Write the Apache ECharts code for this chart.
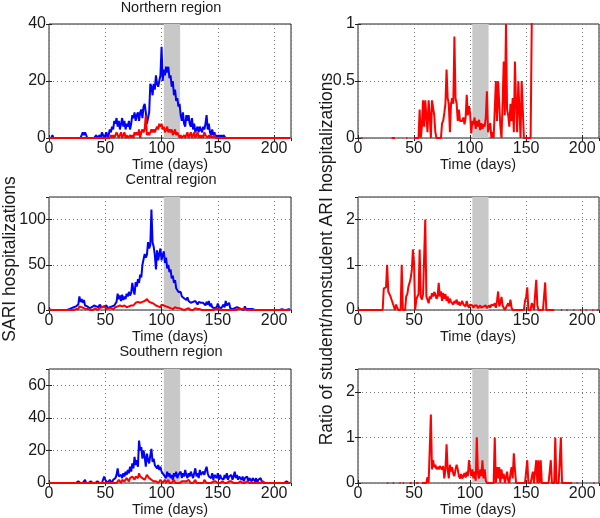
<!DOCTYPE html>
<html><head><meta charset="utf-8">
<script src="https://cdn.jsdelivr.net/npm/echarts@6/dist/echarts.min.js"></script>
<style>html,body{margin:0;padding:0;background:#fff}#c{width:600px;height:518px}</style>
</head><body><div id="c"></div>
<script>
// ---- DATA (day index 0..214) ----
const panelTitles = ["Northern region", "Central region", "Southern region"];
const xLabel = "Time (days)";
const yLabelLeft = "SARI hospitalizations";
const yLabelRight = "Ratio of student/nonstudent ARI hospitalizations";
const xTicks = [0, 50, 100, 150, 200];
const bandStart = 102, bandEnd = 116.5;

const northTotal = [
0,0,0,1,0,0,0,0,0,0, 0,0,0,0,0,0,0,0,0,0, 0,0,0,0,0,0,0,0,0,1, 2,1,2,1,0,0,0,0,0,0,
0,0,1,0,0,1,0,2,1,0, 1,2,0,1,3,2,4,3,6,5, 7,4,6,3,5,7,4,6,3,5, 4,6,3,5,8,7,9,6,8,9,
6,9,10,7,11,12,9,5,7,9, 19,18,15,19,17,22,19,18,20,22, 32,20,24,22,25,23,25,21,22,18,
20,15,17,13,14,11,12,8,6,9, 5,4,8,6,8,5,4,7,3,5, 2,3,4,2,4,3,2,4,3,5, 8,3,5,2,1,3,1,2,0,1,
0,1,0,1,0,1,1,0,0,0, 0,0,0,0,0,0,0,0,0,0, 0,0,0,0,0,0,0,0,0,0, 0,0,0,0,0,0,0,0,0,0,
0,0,0,0,0,0,0,0,0,0, 0,0,0,0,0,0,0,0,0,0, 0,0,0,0,0];
const northStudent = [
0,0,0,0,0,0,0,0,0,0, 0,0,0,0,0,0,0,0,0,0, 0,0,0,0,0,0,0,0,0,0, 0,0,0,0,0,0,0,0,0,0,
0,0,0,0,0,0,0,0,0,0, 0,0,0,0,0,1,0,1,0,1, 2,1,0,1,2,0,1,2,0,1, 0,0,1,0,1,0,2,1,2,1,
3,0,2,3,2,3,8,1,2,1, 2,3,2,3,2,3,4,3,5,4, 5,3,4,2,3,4,2,3,2,3, 1,2,3,1,2,1,0,1,0,0,
1,0,1,2,0,1,2,0,1,2, 0,1,2,0,1,0,1,0,2,1, 1,0,1,0,1,0,0,1,0,0, 0,0,0,0,0,0,0,0,0,0,
0,0,0,0,0,0,0,0,0,0, 0,0,0,0,0,0,0,0,0,0, 0,0,0,0,0,0,0,0,0,0, 0,0,0,0,0,0,0,0,0,0,
0,0,0,0,0,0,0,0,0,0, 0,0,0,0,0];
const northRatio = [
null,null,null,0,0,null,null,null,null,null, null,null,null,null,null,null,null,null,null,null,
null,null,null,null,null,null,null,null,null,null, 0,0,0,0,null,null,null,null,null,null,
null,null,null,0,0,null,null,null,null,null, 0,0,0,0,0,0.25,0,0.1,0.33,0.1,
0.33,0.33,0.05,0.33,0.2,0,0.33,0.33,0.2,0.05, 0,0,0,0,0,0.13,0.15,0.22,0.3,0.6,
0.35,0.3,0.05,0.3,0.35,0.3,0.89,0.35,0.3,0.15, 0.25,0.15,0.14,0.15,0.18,0.12,0.18,0.38,0.2,0.28,
0.22,0.04,0.15,0.12,0.18,0.08,0.15,0.1,0.16,0.07, 0.13,0.08,0.12,0.1,0.18,0.41,0.05,0.1,0.13,0,
0.05,0,0,0.5,0.15,0.5,0.5,0.1,0,0.3, 0.67,0.2,1.0,0.25,0.2,0.1,0.3,0.15,0.35,0.05,
0.67,0.3,0.05,0.5,0.5,0,0.5,0.5,0,0, 0,0,0,0,0,0,2,null,null,null,
null,null,null,null,null,null,null,null,null,null, null,null,null,null,null,null,null,null,null,null,
null,null,null,null,null,null,null,null,null,null, null,null,null,null,null,null,null,null,null,null,
null,null,null,null,null,null,null,null,null,null, null,null,null,null,null];

const centralTotal = [
1,0,0,1,0,0,0,0,0,0, 0,0,0,0,0,0,0,0,1,3, 2,1,3,2,4,3,6,15,9,12, 8,11,5,7,4,3,2,4,3,2,
5,3,4,2,3,6,4,3,2,4, 3,5,2,4,3,2,4,3,5,4, 9,18,12,16,10,17,11,15,12,18, 15,20,16,19,30,22,17,31,26,34,
30,39,36,50,48,62,58,61,75,68, 72,111,75,70,61,45,66,55,62,68, 55,61,65,52,58,46,50,42,45,35,
38,30,33,24,22,20,18,20,15,17, 13,15,11,14,10,11,8,10,9,7, 10,8,6,9,7,8,6,8,7,5,
9,6,10,4,7,3,5,2,4,3, 7,3,5,2,4,6,3,10,5,3, 8,2,4,1,3,2,1,3,1,2, 0,1,2,0,4,1,0,1,0,1,
0,1,0,0,1,0,0,0,1,0, 0,0,1,0,0,0,0,0,0,0, 0,0,0,0,0,0,0,1,0,0, 0,0,0,1,0];
const centralStudent = [
0,0,0,0,0,0,0,0,0,0, 0,0,0,0,0,0,0,0,0,0, 0,0,0,0,1,2,1,4,2,3, 1,2,0,1,0,1,2,0,1,0,
1,2,1,0,1,2,1,3,2,4, 2,1,3,2,1,2,3,1,2,3, 2,4,3,5,3,4,3,5,4,3, 5,4,6,5,7,5,6,8,6,9,
7,8,6,9,7,10,8,12,11,9, 11,8,10,7,8,5,6,4,5,3, 6,4,5,3,4,2,3,4,2,3, 1,2,3,1,2,1,2,0,1,2,
0,1,1,0,2,1,0,1,0,1, 2,0,1,0,1,1,0,1,0,2, 0,1,0,1,0,1,0,0,1,0, 1,0,0,1,0,1,0,1,0,2,
0,1,0,1,0,1,0,0,1,0, 1,0,1,0,1,0,0,0,0,0, 0,0,0,0,0,0,0,0,0,0, 0,0,0,0,0,0,0,0,0,0,
0,0,0,0,0,0,0,0,0,0, 0,0,0,0,0];
const centralRatio = [
0,0,0,0,0,0,0,0,0,0, 0,0,0,0,0,0,0,0,0,0, 0,0,0,0.48,0.48,0.5,1.0,0.41,0.37,0.3,
0.26,0.15,0.12,0,0.12,0.05,0,0,0,1.0, 0,0,0,0.3,0.35,0.52,0.6,0.7,0.88,1.34,
1.03,0,0.23,0.3,0.35,1.34,0.3,0.23,0.34,0.3, 2.0,0.3,0.28,0.15,0.3,0.25,0.37,0.3,0.4,0.35,
0.25,0.3,0.6,0.3,0.41,0.2,0.38,0.25,0.35,0.2, 0.3,0.15,0.25,0.18,0.22,0.12,0.2,0.15,0.23,0.12,
0.18,0.1,0.15,0.2,0.12,0.15,0.08,0.2,0.1,0.05, 0.12,0.08,0.1,0.05,0.1,0.08,0.1,0.04,0.08,0.1,
0.05,0.02,0.08,0.05,0.1,0.04,0.07,0.1,0.05,0.12, 0.08,0.1,0.15,0.05,0.2,0.41,0.08,0.15,0.29,0.1,
0.05,0,0,0.1,0.15,0.08,0.23,0.05,0,0, 0,0,0,0,0,0,0,0,0,0.2,
0.29,0.5,0,0,0,0.15,0.1,0,0,0.67, 0.1,0,0,0,0,0,0,0.61,0,0,
0,0,0,0,0,0,null,null,null,null, null,0,0,null,null,null,0,0,null,null,
null,null,0,0,null,null,null,null,0,0, null,null,null,0,0,null,null,null,null,0,
0,null,null,0,0];

const southTotal = [
0,0,0,0,0,0,0,0,0,0, 0,0,0,0,0,0,0,0,0,0, 0,0,0,1,0,0,1,2,0,1, 0,1,2,0,1,0,0,1,0,0,
1,0,0,1,2,0,1,0,2,4, 2,1,0,1,2,1,0,2,1,3, 5,9,4,3,5,3,6,4,7,5, 8,6,10,7,12,9,16,11,14,10,
26,20,22,15,20,16,10,18,14,12, 17,21,13,15,11,12,9,11,8,10, 7,8,5,6,3,7,4,6,3,5,
2,6,4,7,3,5,4,7,3,6, 4,8,5,3,6,4,7,5,3,6, 9,4,6,3,8,5,4,7,5,8, 10,6,4,5,3,6,2,5,4,3,
6,2,5,3,4,2,5,3,6,2, 4,3,5,2,4,7,3,5,2,4, 3,2,4,1,3,2,4,1,3,2, 1,3,2,1,3,0,2,1,3,1,
0,0,0,0,0,0,0,0,0,0, 0,0,0,0,0,0,0,0,0,0, 0,1,1,0,0];
const southStudent = [
0,0,0,0,0,0,0,0,0,0, 0,0,0,0,0,0,0,0,0,0, 0,0,0,0,0,0,0,0,0,0, 0,0,0,0,0,0,0,0,0,0,
0,0,0,0,0,0,0,0,0,0, 0,0,0,0,0,0,0,0,0,1, 0,1,2,1,0,2,3,1,2,3, 2,1,3,2,4,3,2,4,5,3,
6,4,5,3,4,2,3,5,6,3, 4,2,3,1,2,1,2,0,1,2, 1,0,1,2,0,1,2,0,1,0, 1,2,0,1,0,1,0,0,1,0,
1,2,1,0,2,1,0,1,0,1, 2,0,1,0,1,0,1,0,2,1, 0,1,0,1,0,0,1,0,1,0, 0,1,0,0,1,0,0,1,0,0,
1,0,1,0,0,1,0,1,0,0, 1,0,0,1,0,0,1,0,0,0, 0,0,0,1,0,0,0,0,0,0, 1,0,0,0,0,0,0,1,0,1,
0,0,0,0,0,0,0,0,0,0, 0,0,0,0,0];
const southRatio = [
null,null,null,null,null,null,null,null,null,null, null,null,null,null,null,null,null,null,null,null,
null,null,null,null,null,null,0,0,null,null, null,0,0,null,null,null,null,0,0,null,
0,0,null,null,null,null,0,0,0,null, null,null,0,0,0,null,null,0,0,0,
0,0,0.13,0,0,1.5,0.3,0.5,0.35,0.4, 0.3,0.35,0.3,0.37,0.37,0.3,0.37,0.1,0.3,0.85,
0.3,0.1,0.4,0.25,0.35,0.2,0.15,0.3,0.4,0.3, 0.15,0.1,0.2,0.1,0.15,0.22,0.12,0.25,0.15,0.5,
0.3,0.15,0.3,0.1,0.25,0.05,1.0,0.2,0.1,0.3, 0.15,0.5,0.1,0.3,0.05,0,0,0,0,0,
0,0,1.0,0,0.35,0.1,0.35,0,0.3,0.1, 0.2,0,0,0.25,0.05,0,0.2,0.35,0.1,0.65,
0.3,0,0,0,0,0,0,0,0,0, 0,0.5,0,0,0,0,0.25,0,0,0.5,
0,0.5,0,0.5,0,0,0,0,0,0, 0,0,0.5,0,0,0,1.0,0,0,0,
0,1.0,0,0,0,0,0,0,0,0, 0,0,null,null,null,0,0,null,null,null,
null,null,null,null,null,null,null,null,null,null, 0,0,null,null,null];

// y-axis ranges per panel (max, interval)
const yMax = [40, 1, 125, 2.5, 70, 2.5];
const yInterval = [20, 0.5, 50, 1, 20, 1];
const xMax = 215;

// ---- CHART ----
const FONT = "'Liberation Sans', Arial, Helvetica, sans-serif";
const TXT = '#1a1a1a';
const grids = [
  {left: 49, top: 24, width: 242, height: 114},
  {left: 358, top: 24, width: 241, height: 114},
  {left: 49, top: 197, width: 242, height: 113},
  {left: 358, top: 197, width: 241, height: 113},
  {left: 49, top: 369, width: 242, height: 114},
  {left: 358, top: 369, width: 241, height: 114}
].map(g => Object.assign(g, {show: true, borderColor: '#222', borderWidth: 1, backgroundColor: 'transparent', containLabel: false}));

const pairs = arr => arr.map((v, i) => [i, v]);
const xAxes = [], yAxes = [], series = [];
const split = {show: true, lineStyle: {type: [1, 3], color: '#777', width: 1}};
const tick = {show: true, inside: true, length: 3, lineStyle: {color: '#222'}};
for (let i = 0; i < 6; i++) {
  const fracMax = (xMax % 50) !== 0;
  xAxes.push({gridIndex: i, type: 'value', min: 0, max: xMax, interval: 50, position: 'bottom',
    axisLine: {show: false}, axisTick: tick,
    axisLabel: {show: true, fontSize: 16, fontFamily: FONT, color: TXT, margin: 3, showMaxLabel: !fracMax},
    splitLine: split});
  xAxes.push({gridIndex: i, type: 'value', min: 0, max: xMax, interval: 50, position: 'top',
    axisLine: {show: false}, axisTick: tick, axisLabel: {show: false}, splitLine: {show: false}});
  const yFrac = Math.abs(yMax[i] / yInterval[i] - Math.round(yMax[i] / yInterval[i])) > 1e-9;
  yAxes.push({gridIndex: i, type: 'value', min: 0, max: yMax[i], interval: yInterval[i], position: 'left',
    axisLine: {show: false}, axisTick: tick,
    axisLabel: {show: true, fontSize: 16, fontFamily: FONT, color: TXT, margin: 3, showMaxLabel: !yFrac},
    splitLine: split});
  yAxes.push({gridIndex: i, type: 'value', min: 0, max: yMax[i], interval: yInterval[i], position: 'right',
    axisLine: {show: false}, axisTick: tick, axisLabel: {show: false}, splitLine: {show: false}});
  // shaded band: an area between bandStart and bandEnd up to the axis top
  series.push({type: 'line', xAxisIndex: 2 * i, yAxisIndex: 2 * i, z: 1, silent: true, symbol: 'none',
    data: [[bandStart, yMax[i]], [bandEnd, yMax[i]]],
    lineStyle: {width: 0, color: '#c8c8c8'}, areaStyle: {color: '#c8c8c8', opacity: 1, origin: 'start'}});
}
const line = (gi, data, color) => ({type: 'line', xAxisIndex: 2 * gi, yAxisIndex: 2 * gi, data: pairs(data),
  symbol: 'none', showSymbol: false, connectNulls: false, clip: true, z: 3, animation: false,
  lineStyle: {color: color, width: 2}, itemStyle: {color: color}});
series.push(line(0, northTotal, '#0000ff'), line(0, northStudent, '#ff0000'), line(1, northRatio, '#ff0000'));
series.push(line(2, centralTotal, '#0000ff'), line(2, centralStudent, '#ff0000'), line(3, centralRatio, '#ff0000'));
series.push(line(4, southTotal, '#0000ff'), line(4, southStudent, '#ff0000'), line(5, southRatio, '#ff0000'));

const txt = (x, y, text, size, rot) => ({type: 'text', x: x, y: y, rotation: rot || 0, silent: true,
  style: {text: text, fontSize: size, fontFamily: FONT, fill: TXT, align: 'center', verticalAlign: 'middle',
    textAlign: 'center', textVerticalAlign: 'middle'}});
const graphics = [
  txt(171, 8, panelTitles[0], 14.5), txt(171, 180, panelTitles[1], 14.5), txt(171, 352, panelTitles[2], 14.5),
  txt(170, 165, xLabel, 14.5), txt(478, 165, xLabel, 14.5),
  txt(170, 337, xLabel, 14.5), txt(478, 337, xLabel, 14.5),
  txt(170, 510, xLabel, 14.5), txt(478, 510, xLabel, 14.5),
  txt(10, 259, yLabelLeft, 17.5, Math.PI / 2), txt(327, 259, yLabelRight, 17.5, Math.PI / 2)
];

const chart = echarts.init(document.getElementById('c'), null, {renderer: 'canvas'});
chart.setOption({animation: false, backgroundColor: '#fff', grid: grids, xAxis: xAxes, yAxis: yAxes,
  series: series, graphic: graphics});
</script></body></html>
